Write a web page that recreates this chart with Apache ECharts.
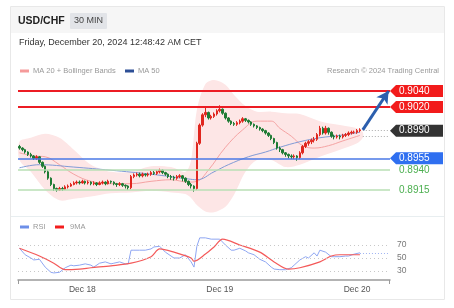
<!DOCTYPE html>
<html><head><meta charset="utf-8">
<script src="https://cdn.jsdelivr.net/npm/echarts@6/dist/echarts.min.js"></script>
<style>html,body{margin:0;padding:0;background:#fff}#c{width:454px;height:308px}</style>
</head><body><div id="c"></div><script>
const FONT = '"Liberation Sans", Arial, sans-serif';
const symbolName = 'USD/CHF';
const timeframe = '30 MIN';
const dateText = 'Friday, December 20, 2024 12:48:42 AM CET';
const legendPrice = ['MA 20 + Bollinger Bands', 'MA 50'];
const legendRsi = ['RSI', '9MA'];
const credit = 'Research \u00a9 2024 Trading Central';
const startTimeUTC = Date.UTC(2024, 11, 17, 13, 0);
const barCount = 130;

// [open, close, low, high]
const candles = [
[.8970,.8968,.8966,.8972],[.8968,.8966,.8964,.8969],[.8966,.8963,.8961,.8967],[.8963,.8960,.8958,.8964],
[.8960,.8958,.8956,.8962],[.8958,.8955,.8953,.8959],[.8955,.8957,.8953,.8959],[.8957,.8950,.8948,.8958],
[.8950,.8945,.8943,.8951],[.8945,.8938,.8936,.8946],[.8938,.8930,.8928,.8940],[.8930,.8922,.8920,.8931],
[.8922,.8917,.8914,.8923],[.8917,.8915,.8913,.8918],[.8915,.8917,.8914,.8919],[.8917,.8916,.8914,.8919],
[.8916,.8919,.8915,.8921],[.8919,.8920,.8917,.8922],[.8920,.8922,.8919,.8924],[.8922,.8924,.8921,.8926],
[.8924,.8925,.8922,.8927],[.8925,.8924,.8922,.8927],[.8924,.8926,.8923,.8928],[.8926,.8924,.8922,.8927],
[.8924,.8925,.8922,.8927],[.8925,.8923,.8921,.8926],[.8923,.8924,.8921,.8926],[.8924,.8922,.8920,.8925],
[.8922,.8924,.8921,.8926],[.8924,.8925,.8922,.8927],[.8925,.8923,.8921,.8926],[.8923,.8926,.8922,.8928],
[.8926,.8925,.8923,.8927],[.8925,.8923,.8921,.8926],[.8923,.8922,.8919,.8924],[.8922,.8923,.8920,.8925],
[.8923,.8921,.8919,.8924],[.8921,.8920,.8917,.8922],[.8920,.8918,.8915,.8921],[.8918,.8932,.8916,.8934],
[.8932,.8934,.8930,.8936],[.8934,.8935,.8932,.8937],[.8935,.8933,.8931,.8937],[.8933,.8935,.8931,.8937],
[.8935,.8934,.8932,.8936],[.8934,.8935,.8932,.8937],[.8935,.8937,.8933,.8939],[.8937,.8936,.8934,.8939],
[.8936,.8938,.8934,.8940],[.8938,.8940,.8936,.8942],[.8940,.8937,.8935,.8941],[.8937,.8935,.8933,.8938],
[.8935,.8932,.8930,.8936],[.8932,.8931,.8928,.8934],[.8931,.8930,.8927,.8933],[.8930,.8932,.8928,.8934],
[.8932,.8933,.8930,.8935],[.8933,.8930,.8926,.8934],[.8930,.8926,.8924,.8931],[.8926,.8922,.8920,.8927],
[.8922,.8920,.8917,.8924],[.8920,.8917,.8913,.8921],[.8917,.8974,.8915,.8976],[.8974,.8997,.8972,.8999],
[.8997,.9010,.8995,.9012],[.9010,.9013,.9007,.9020],[.9013,.9006,.9004,.9014],[.9006,.9008,.9004,.9010],
[.9008,.9011,.9006,.9013],[.9011,.9015,.9009,.9017],[.9015,.9017,.9013,.9022],[.9017,.9012,.9010,.9018],
[.9012,.9006,.9004,.9013],[.9006,.9002,.9000,.9007],[.9002,.8999,.8997,.9003],[.8999,.8998,.8996,.9001],
[.8998,.9000,.8996,.9002],[.9000,.9002,.8998,.9004],[.9002,.9005,.9000,.9007],[.9005,.9003,.9001,.9006],
[.9003,.9001,.8999,.9004],[.9001,.8998,.8996,.9002],[.8998,.8996,.8994,.8999],[.8996,.8994,.8992,.8997],
[.8994,.8992,.8990,.8995],[.8992,.8990,.8988,.8993],[.8990,.8987,.8985,.8991],[.8987,.8984,.8982,.8988],
[.8984,.8980,.8978,.8985],[.8980,.8975,.8973,.8981],[.8975,.8968,.8966,.8976],[.8968,.8966,.8963,.8970],
[.8966,.8962,.8960,.8967],[.8962,.8960,.8957,.8963],[.8960,.8958,.8955,.8961],[.8958,.8957,.8954,.8960],
[.8957,.8958,.8954,.8960],[.8958,.8956,.8952,.8959],[.8956,.8962,.8954,.8964],[.8962,.8970,.8960,.8972],
[.8970,.8974,.8968,.8976],[.8974,.8976,.8971,.8978],[.8976,.8978,.8973,.8980],[.8978,.8979,.8975,.8982],
[.8979,.8985,.8977,.8987],[.8985,.8993,.8983,.8996],[.8993,.8987,.8985,.8995],[.8987,.8993,.8985,.8996],
[.8993,.8988,.8985,.8994],[.8988,.8983,.8981,.8989],[.8983,.8982,.8979,.8985],[.8982,.8983,.8980,.8985],
[.8983,.8982,.8979,.8985],[.8982,.8984,.8980,.8986],[.8984,.8985,.8982,.8987],[.8985,.8987,.8983,.8989],
[.8987,.8988,.8985,.8990],[.8988,.8988,.8986,.8990],[.8988,.8990,.8986,.8992],[.8990,.8991,.8988,.8993]
];

const bandIdx   = [0, 4, 9, 14, 19, 25, 32, 39, 46, 53, 58, 60, 62, 65, 68, 72, 75, 79, 83, 88, 93, 98, 105, 112, 118, 120];
const bandUpper = [.8976,.8981,.8986,.8981,.8966,.8947,.8938,.8938,.8945,.8944,.8938,.8953,.9016,.9049,.9054,.9048,.9035,.9021,.9014,.9014,.9012,.9011,.9002,.8997,.8993,.8988];
const bandLower = [.8953,.8938,.8915,.8902,.8904,.8907,.8911,.8912,.8914,.8912,.8910,.8905,.8896,.8888,.8887,.8894,.8909,.8938,.8953,.8953,.8944,.8947,.8957,.8966,.8974,.8981];

const ma20Idx = [0, 5, 9, 14, 19, 25, 32, 39, 46, 53, 59, 62, 66, 72, 78, 83, 88, 91, 95, 99, 103, 108, 113, 119];
const ma20Val = [.8962,.8958,.8957,.8947,.8935,.8926,.8923,.8923,.8926,.8928,.8925,.8926,.8940,.8969,.8991,.9002,.9002,.8993,.8983,.8971,.8968,.8971,.8977,.8984];

const ma50Idx = [0, 7, 19, 32, 46, 59, 62, 68, 73, 80, 86, 91, 98, 105, 112, 119];
const ma50Val = [.8943,.8947,.8944,.8940,.8935,.8929,.8928,.8938,.8947,.8957,.8963,.8969,.8976,.8981,.8984,.8988];

const resistanceLevels = [0.9040, 0.9020];
const currentLevel = 0.8990;
const priceMarkers = [0.8990, 0.8983];
const pivotLevel = 0.8955;
const supportLevels = [0.8940, 0.8915];
const arrowFrom = [120, 0.8991];
const arrowTo = [129, 0.9040];

const rsiIdx = [0,2,4,5,7,9,11,12,14,16,18,19,21,23,25,26,28,30,32,33,35,37,38,39,40,42,44,46,47,49,51,53,54,56,58,60,61,62,63,65,67,68,70,72,74,75,77,79,80,82,84,86,88,89,91,93,95,96,98,100,101,103,104,105,107,109,110,112,114,115,117,119];
const rsiVal = [65,55,50,47,48,36,28,27,28,35,39,38,39,41,39,36,42,44,41,42,44,41,41,62,62,62,62,64,67,68,59,53,50,50,55,44,36,68,81,81,79,79,79,70,62,62,65,61,58,55,48,44,36,33,32,32,35,39,47,52,50,58,53,62,59,52,52,52,53,53,56,58];
const ma9Idx = [0,7,12,16,21,25,32,39,46,49,54,60,61,65,68,71,77,84,89,94,98,105,109,112,119];
const ma9Val = [65,53,42,32,33,35,38,42,52,64,59,50,45,56,67,79,70,59,44,33,35,44,53,55,55];
const rsiLevels = [70, 50, 30];

const MONTHS = ['Jan','Feb','Mar','Apr','May','Jun','Jul','Aug','Sep','Oct','Nov','Dec'];
const categories = [];
for (let i = 0; i < barCount; i++) {
  const d = new Date(startTimeUTC + i * 1800000);
  categories.push(MONTHS[d.getUTCMonth()] + ' ' + d.getUTCDate() + ' ' +
    String(d.getUTCHours()).padStart(2,'0') + ':' + String(d.getUTCMinutes()).padStart(2,'0'));
}
const pairs = (idx, val) => idx.map((k, j) => [k, val[j]]);

const chart = echarts.init(document.getElementById('c'), null, {renderer: 'canvas'});
const GL = 18, GW = 372;
chart.setOption({
  animation: false,
  textStyle: {fontFamily: FONT},
  grid: [
    {left: GL, width: GW, top: 75.2, height: 138.6},
    {left: GL, width: GW, top: 235.9, height: 44.2}
  ],
  xAxis: [
    {type: 'category', gridIndex: 0, data: categories, show: false},
    {type: 'category', gridIndex: 1, data: categories,
     axisLine: {lineStyle: {color: '#9a9a9a', width: 1.5}}, axisTick: {show: false},
     axisLabel: {color: '#555', fontSize: 8.5, margin: 5, fontFamily: FONT,
       interval: (i, v) => v.endsWith('00:00'), formatter: v => v.slice(0, v.lastIndexOf(' '))}}
  ],
  yAxis: [
    {type: 'value', gridIndex: 0, min: 0.8885, max: 0.9060, show: false, scale: true},
    {type: 'value', gridIndex: 1, min: 16, max: 84, show: false}
  ],
  series: [
    {type: 'custom', xAxisIndex: 0, yAxisIndex: 0, data: [[0, 0.895]], silent: true, z: 1, clip: false,
     renderItem: (params, api) => {
       const up = bandIdx.map((k, j) => api.coord([k, bandUpper[j]]));
       const lo = bandIdx.map((k, j) => api.coord([k, bandLower[j]])).reverse();
       return {type: 'polygon', shape: {points: up.concat(lo), smooth: 0.3}, style: {fill: '#fde6e6'}};
     }},
    {type: 'line', xAxisIndex: 0, yAxisIndex: 0, data: pairs(ma20Idx, ma20Val), smooth: 0.4, symbol: 'none',
     lineStyle: {color: '#f5a3a3', width: 1}, z: 2, silent: true,
     markLine: {silent: true, symbol: 'none', label: {show: false}, animation: false, precision: 4,
       data: [
         ...resistanceLevels.map(v => ({yAxis: v, lineStyle: {color: '#ec1c24', width: 2, type: 'solid'}})),
         {yAxis: pivotLevel, lineStyle: {color: '#4a78e6', width: 1.5, type: 'solid'}},
         ...supportLevels.map(v => ({yAxis: v, lineStyle: {color: '#b9dfb5', width: 1.5, type: 'solid'}})),
         ...priceMarkers.map(v => [{coord: [120, v], lineStyle: {color: '#aaa', width: 1, type: [1, 2]}}, {coord: [129, v]}])
       ]}},
    {type: 'line', xAxisIndex: 0, yAxisIndex: 0, data: pairs(ma50Idx, ma50Val), smooth: 0.4, symbol: 'none',
     lineStyle: {color: '#819bd6', width: 1}, z: 2, silent: true,
     markLine: {silent: true, symbol: ['none', 'arrow'], symbolSize: [10, 12], label: {show: false}, precision: 4,
       lineStyle: {color: '#2c5fae', width: 3, type: 'solid'},
       data: [[{coord: arrowFrom}, {coord: arrowTo}]]}},
    {type: 'candlestick', xAxisIndex: 0, yAxisIndex: 0, data: candles, barWidth: '70%', z: 3,
     itemStyle: {color: '#e0261e', color0: '#1e7b34', borderColor: '#e0261e', borderColor0: '#1e7b34', borderWidth: 1}},
    {type: 'line', xAxisIndex: 1, yAxisIndex: 1, data: pairs(rsiIdx, rsiVal), symbol: 'none',
     lineStyle: {color: '#8ea6f2', width: 1}, z: 3, silent: true,
     markLine: {silent: true, symbol: 'none', animation: false,
       data: [
         ...rsiLevels.map(v => ({yAxis: v, lineStyle: {color: '#c8c8c8', width: 1, type: [1, 3]},
            label: {show: true, position: 'end', distance: 7, formatter: String(v), color: '#777', fontSize: 8.5, fontFamily: FONT}})),
         [{coord: [rsiIdx[rsiIdx.length - 1], rsiVal[rsiVal.length - 1]], lineStyle: {color: '#9fb3f2', width: 1, type: [1, 2]}, label: {show: false}},
          {coord: [129, rsiVal[rsiVal.length - 1]]}]
       ]}},
    {type: 'line', xAxisIndex: 1, yAxisIndex: 1, data: pairs(ma9Idx, ma9Val), smooth: 0.3, symbol: 'none',
     lineStyle: {color: '#f45a5a', width: 1.2}, z: 4, silent: true}
  ]
});

function py(v) { return chart.convertToPixel({yAxisIndex: 0}, v); }
function tag(v, fill) {
  const y = py(v);
  return [
    {type: 'polygon', shape: {points: [[390, y], [396, y - 6], [443, y - 6], [443, y + 6], [396, y + 6]]}, style: {fill: fill}, z: 10},
    {type: 'text', x: 399, y: y, style: {text: v.toFixed(4), fill: '#fff', font: '10px ' + FONT, textVerticalAlign: 'middle'}, z: 11}
  ];
}
const g = [
  {type: 'rect', shape: {x: 10.5, y: 6.5, width: 434, height: 293}, style: {fill: 'none', stroke: '#e8e8e8', lineWidth: 1}, z: -1},
  {type: 'rect', shape: {x: 11, y: 7, width: 433, height: 26}, style: {fill: '#f6f6f6'}, z: -1},
  {type: 'text', x: 18, y: 21, style: {text: symbolName, fill: '#222', font: 'bold 10.5px ' + FONT, textVerticalAlign: 'middle'}},
  {type: 'rect', shape: {x: 70, y: 13, width: 37, height: 16, r: 1}, style: {fill: '#e2e4e8'}},
  {type: 'text', x: 88.5, y: 21, style: {text: timeframe, fill: '#444', font: '9px ' + FONT, textAlign: 'center', textVerticalAlign: 'middle'}},
  {type: 'text', x: 19, y: 43, style: {text: dateText, fill: '#333', font: '9px ' + FONT, textVerticalAlign: 'middle'}},
  {type: 'rect', shape: {x: 20, y: 69.5, width: 9, height: 3}, style: {fill: '#f59a9a'}},
  {type: 'text', x: 33, y: 71, style: {text: legendPrice[0], fill: '#999', font: '7.5px ' + FONT, textVerticalAlign: 'middle'}},
  {type: 'rect', shape: {x: 125, y: 69.5, width: 9, height: 3}, style: {fill: '#2d4f96'}},
  {type: 'text', x: 138, y: 71, style: {text: legendPrice[1], fill: '#999', font: '7.5px ' + FONT, textVerticalAlign: 'middle'}},
  {type: 'text', x: 439, y: 71, style: {text: credit, fill: '#999', font: '7.5px ' + FONT, textAlign: 'right', textVerticalAlign: 'middle'}},
  {type: 'line', shape: {x1: 11, y1: 216.5, x2: 444, y2: 216.5}, style: {stroke: '#e8eef0', lineWidth: 1}},
  {type: 'rect', shape: {x: 20, y: 225.5, width: 9, height: 3}, style: {fill: '#6d8fe8'}},
  {type: 'text', x: 33, y: 227, style: {text: legendRsi[0], fill: '#999', font: '7.5px ' + FONT, textVerticalAlign: 'middle'}},
  {type: 'rect', shape: {x: 55, y: 225.5, width: 9, height: 3}, style: {fill: '#f21d1d'}},
  {type: 'text', x: 70, y: 227, style: {text: legendRsi[1], fill: '#999', font: '7.5px ' + FONT, textVerticalAlign: 'middle'}},
  {type: 'line', shape: {x1: GL + 0.5, y1: 280, x2: GL + 0.5, y2: 284}, style: {stroke: '#9a9a9a', lineWidth: 1}},
  {type: 'line', shape: {x1: GL + GW - 0.5, y1: 280, x2: GL + GW - 0.5, y2: 284}, style: {stroke: '#9a9a9a', lineWidth: 1}},
  ...tag(resistanceLevels[0], '#f21b1b'),
  ...tag(resistanceLevels[1], '#f21b1b'),
  ...tag(currentLevel, '#333333'),
  ...tag(pivotLevel, '#2f6ff0'),
  ...supportLevels.map(v => ({type: 'text', x: 399, y: py(v), style: {text: v.toFixed(4), fill: '#4caf50', font: '10px ' + FONT, textVerticalAlign: 'middle'}}))
];
chart.setOption({graphic: g});
</script></body></html>
